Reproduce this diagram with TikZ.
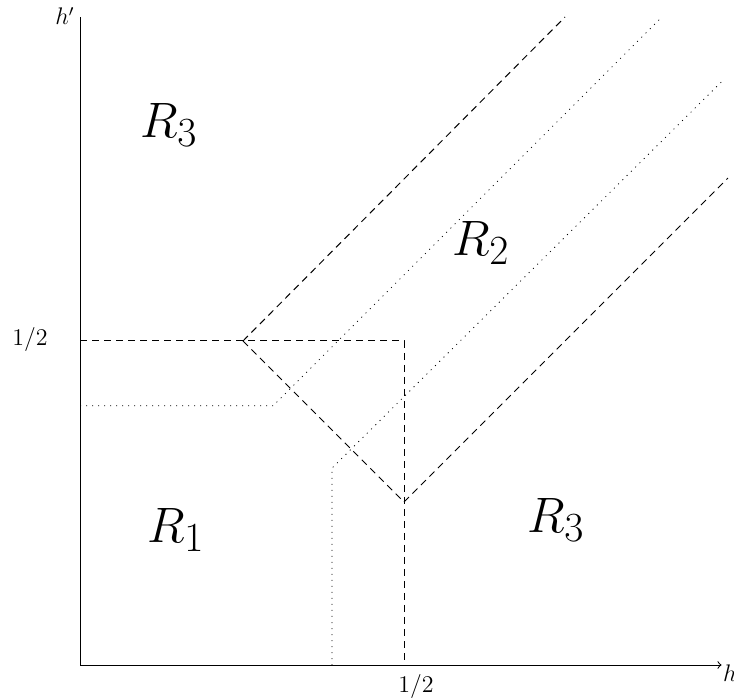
\documentclass[tikz,border=0pt]{standalone}
\usepackage{amsmath}
\begin{document}
\begin{tikzpicture}[x=324pt,y=324pt,
  axisline/.style={line width=0.5pt},
  dashline/.style={line width=0.5pt,dash pattern=on 3.5pt off 2.5pt},
  dotline/.style={line width=0.4pt,dash pattern=on 0.5pt off 2.5pt},
  biglabel/.style={inner sep=0pt,anchor=base west,font=\Huge},
  smalllabel/.style={inner sep=0pt,anchor=base west,font=\large}]
\useasboundingbox (-0.12346,-0.05093) rectangle (1.00926,1.02623);
% axes
\coordinate (O) at (0,0);
\coordinate (xend) at (0.99,0);
\coordinate (yend) at (0,1.0);
\draw[axisline,->] (O) -- (xend);
\draw[axisline] (O) -- (yend);
% dashed lines
\coordinate (A) at (0.2515,0.5);
\coordinate (B) at (0.5,0.2515);
\coordinate (H) at (0.5,0.5);
\draw[dashline] (0,0.5) -- (H) -- (0.5,0);
\draw[dashline] (A) -- (0.7485,1.0);
\draw[dashline] (A) -- (B);
\draw[dashline] (B) -- (1.0,0.7515);
% dotted lines
\coordinate (C) at (0.298,0.4);
\coordinate (D) at (0.389,0.304);
\draw[dotline] (0,0.4) -- (C) -- (0.898,1.0);
\draw[dotline] (0.389,0) -- (D) -- (0.99,0.9);
% labels
\node[biglabel] (r3a) at (0.0926,0.8148) {$R_3$};
\node[biglabel] (r2) at (0.574,0.6327) {$R_2$};
\node[biglabel] (r1) at (0.1034,0.1898) {$R_1$};
\node[biglabel] (r3b) at (0.6898,0.2052) {$R_3$};
\node[smalllabel] (hp) at (-0.0386,0.9877) {$h'$};
\node[smalllabel] (h) at (0.992,-0.026) {$h$};
\node[smalllabel] (halfy) at (-0.1049,0.4938) {$1/2$};
\node[smalllabel] (halfx) at (0.4907,-0.0432) {$1/2$};
\end{tikzpicture}
\end{document}
